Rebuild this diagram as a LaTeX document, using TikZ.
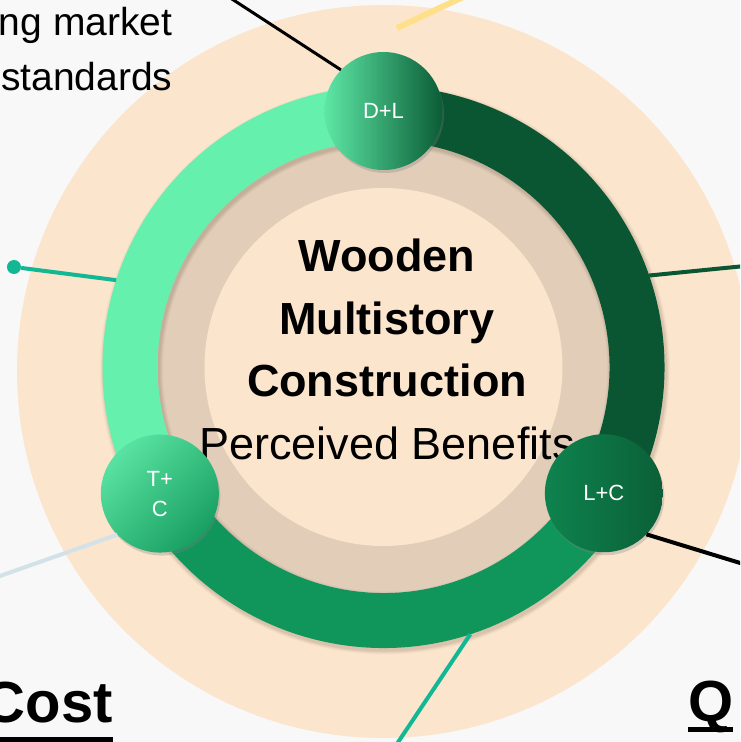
\documentclass[tikz,border=0pt]{standalone}
\usepackage{fontspec}
\setmainfont{Liberation Sans}
\usetikzlibrary{shadows}
\definecolor{pagegray}{HTML}{F8F8F8}
\definecolor{peach}{HTML}{FCE5CD}
\definecolor{sand}{HTML}{E2CDB8}
\definecolor{mint}{HTML}{66F0AE}
\definecolor{forest}{HTML}{0A5632}
\definecolor{jade}{HTML}{10965A}
\definecolor{linkteal}{HTML}{12B894}
\definecolor{butter}{HTML}{FFE08A}
\definecolor{mist}{HTML}{D3E2E8}
\newcommand{\heavyul}[3]{\setbox0=\hbox{#1}\rlap{\rule[#2]{\wd0}{#3}}\box0}
\tikzset{
  hub/.style={circle, minimum size=118pt, inner sep=0pt, text=white, align=center,
    font=\fontsize{22}{30}\selectfont,
    drop shadow={shadow xshift=1.5pt, shadow yshift=-3pt, opacity=0.3}},
  link/.style={line width=4pt},
  band/.style={line width=55pt}
}

\begin{document}
\begin{tikzpicture}[x=1pt, y=1pt]
  \clip (-383.5,-375) rectangle (356.5,367);
  \fill[pagegray] (-383.5,-375) rectangle (356.5,367);
  \fill[peach] (0,-4.5) circle (366.5);
  \fill[sand] (0,0) circle (226);
  \fill[peach] (0,0) circle (179);

  \foreach \w/\o in {63/0.03, 61/0.04, 59/0.05, 57/0.06}
    \draw[line width=\w pt, black!70!brown, opacity=\o] (1.5,-2.5) circle (253.5);
  \draw[band, mint] (90:253.5) arc[start angle=90, end angle=210, radius=253.5];
  \draw[band, jade] (210:253.5) arc[start angle=210, end angle=330, radius=253.5];
  \draw[band, forest] (-30:253.5) arc[start angle=-30, end angle=90, radius=253.5];
  \node[circle, minimum size=562pt, inner sep=0pt, outer sep=0pt] (ring) at (0,0) {};

  \node[font=\fontsize{45}{62.5}\selectfont, align=center, inner sep=0pt, anchor=north] (title) at (3.5,128)
    {\textbf{Wooden}\\\textbf{Multistory}\\\textbf{Construction}\\Perceived Benefits};
  \node[font=\fontsize{39}{55}\selectfont, align=right, inner sep=0pt, anchor=north east] (market) at (-211,360.4)
    {ng market\\standards};
  \node[font=\fontsize{58}{64}\selectfont\bfseries, inner sep=0pt, anchor=base east] (cost) at (-270.5,-355)
    {\heavyul{Cost}{-20pt}{5pt}};
  \node[font=\fontsize{58}{64}\selectfont\bfseries, inner sep=0pt, anchor=base west] (quality) at (304.5,-354)
    {\heavyul{Q}{-11pt}{5pt}};

  \node[hub, left color=mint!90!jade, right color=forest!90!jade] (dl) at (90:256) {D+L};
  \node[hub, top color=mint!85!jade, bottom color=jade!90!mint, shading angle=45] (tc) at (209.5:257) {T+\\C};
  \node[hub, left color=jade!70!forest, right color=forest!85!jade] (lc) at (-29.8:254) {L+C};

  \node[circle, fill=linkteal, minimum size=14pt, inner sep=0pt] (pin) at (-369.5,100) {};
  \coordinate (dl-end) at (-168.5,379);
  \coordinate (butter-start) at (13.5,339);
  \coordinate (butter-end) at (94.5,377);
  \coordinate (forest-end) at (361.5,101);
  \coordinate (lc-end) at (366.5,-199);
  \coordinate (tc-end) at (-393.5,-212.5);
  \coordinate (ring-end) at (6,-388);

  \draw[line width=3pt] (dl.136) -- (dl-end);
  \draw[butter, line width=6pt] (butter-start) -- (butter-end);
  \draw[link, linkteal] (pin) -- (ring.162);
  \draw[link, forest] (ring.19) -- (forest-end);
  \draw[link] (lc.-44) -- (lc-end);
  \draw[link, mist] (tc.224.6) -- (tc-end);
  \draw[link, linkteal] (ring.-72.8) -- (ring-end);
\end{tikzpicture}
\end{document}
